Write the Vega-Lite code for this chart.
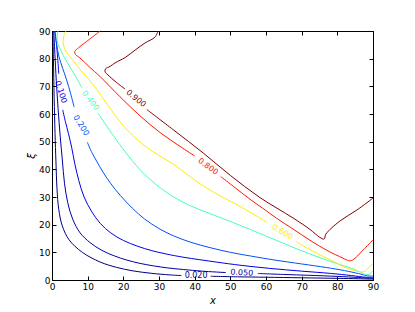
{
  "$schema": "https://vega.github.io/schema/vega-lite/v6.json",
  "width": 321,
  "height": 249,
  "autosize": "none",
  "padding": {"left": 52, "top": 31, "right": 42, "bottom": 32},
  "background": "white",
  "config": {
    "view": {"stroke": null},
    "axis": {
      "grid": false,
      "labelFont": "DejaVu Sans",
      "labelFontSize": 9,
      "labelColor": "#000",
      "labelFlush": false,
      "labelOverlap": false,
      "tickColor": "#000",
      "domainColor": "#000",
      "domainWidth": 1,
      "tickWidth": 1,
      "tickSize": -4,
      "labelPadding": 6,
      "titleFont": "DejaVu Sans",
      "titleFontWeight": "normal",
      "titleColor": "#000",
      "titleFontSize": 10
    }
  },
  "datasets": {
    "lines": [
      {"lev":"0.020","seg":"0.020a","o":1,"x":0.25,"y":90},
      {"lev":"0.020","seg":"0.020a","o":2,"x":0.4,"y":80},
      {"lev":"0.020","seg":"0.020a","o":3,"x":0.6,"y":66},
      {"lev":"0.020","seg":"0.020a","o":4,"x":0.85,"y":53},
      {"lev":"0.020","seg":"0.020a","o":5,"x":1.1,"y":43},
      {"lev":"0.020","seg":"0.020a","o":6,"x":1.4,"y":33},
      {"lev":"0.020","seg":"0.020a","o":7,"x":1.9,"y":25.5},
      {"lev":"0.020","seg":"0.020a","o":8,"x":2.9,"y":19.5},
      {"lev":"0.020","seg":"0.020a","o":9,"x":4.8,"y":14.5},
      {"lev":"0.020","seg":"0.020a","o":10,"x":8.5,"y":10.0},
      {"lev":"0.020","seg":"0.020a","o":11,"x":13.5,"y":6.5},
      {"lev":"0.020","seg":"0.020a","o":12,"x":18,"y":4.6},
      {"lev":"0.020","seg":"0.020a","o":13,"x":22.7,"y":3.3},
      {"lev":"0.020","seg":"0.020a","o":14,"x":28,"y":2.4},
      {"lev":"0.020","seg":"0.020a","o":15,"x":33,"y":1.85},
      {"lev":"0.020","seg":"0.020a","o":16,"x":36.3,"y":1.6},
      {"lev":"0.020","seg":"0.020b","o":1,"x":44.5,"y":1.35},
      {"lev":"0.020","seg":"0.020b","o":2,"x":52,"y":1.15},
      {"lev":"0.020","seg":"0.020b","o":3,"x":60,"y":1.0},
      {"lev":"0.020","seg":"0.020b","o":4,"x":70,"y":0.8},
      {"lev":"0.020","seg":"0.020b","o":5,"x":80,"y":0.6},
      {"lev":"0.020","seg":"0.020b","o":6,"x":86,"y":0.45},
      {"lev":"0.020","seg":"0.020b","o":7,"x":90,"y":0.3},

      {"lev":"0.050","seg":"0.050a","o":1,"x":0.5,"y":90},
      {"lev":"0.050","seg":"0.050a","o":2,"x":0.8,"y":82},
      {"lev":"0.050","seg":"0.050a","o":3,"x":1.2,"y":72},
      {"lev":"0.050","seg":"0.050a","o":4,"x":1.7,"y":62},
      {"lev":"0.050","seg":"0.050a","o":5,"x":2.3,"y":52},
      {"lev":"0.050","seg":"0.050a","o":6,"x":2.9,"y":43.4},
      {"lev":"0.050","seg":"0.050a","o":7,"x":3.5,"y":35},
      {"lev":"0.050","seg":"0.050a","o":8,"x":4.4,"y":28},
      {"lev":"0.050","seg":"0.050a","o":9,"x":5.8,"y":22},
      {"lev":"0.050","seg":"0.050a","o":10,"x":7.9,"y":17},
      {"lev":"0.050","seg":"0.050a","o":11,"x":10.7,"y":13.5},
      {"lev":"0.050","seg":"0.050a","o":12,"x":14,"y":10.7},
      {"lev":"0.050","seg":"0.050a","o":13,"x":17.5,"y":8.7},
      {"lev":"0.050","seg":"0.050a","o":14,"x":21,"y":7.2},
      {"lev":"0.050","seg":"0.050a","o":15,"x":24.7,"y":6.0},
      {"lev":"0.050","seg":"0.050a","o":16,"x":28.5,"y":5.1},
      {"lev":"0.050","seg":"0.050a","o":17,"x":32.2,"y":4.4},
      {"lev":"0.050","seg":"0.050a","o":18,"x":36.8,"y":3.8},
      {"lev":"0.050","seg":"0.050a","o":19,"x":42,"y":3.2},
      {"lev":"0.050","seg":"0.050a","o":20,"x":48.7,"y":2.7},
      {"lev":"0.050","seg":"0.050b","o":1,"x":57.7,"y":2.35},
      {"lev":"0.050","seg":"0.050b","o":2,"x":65,"y":2.0},
      {"lev":"0.050","seg":"0.050b","o":3,"x":72,"y":1.7},
      {"lev":"0.050","seg":"0.050b","o":4,"x":80,"y":1.3},
      {"lev":"0.050","seg":"0.050b","o":5,"x":86,"y":0.9},
      {"lev":"0.050","seg":"0.050b","o":6,"x":89,"y":0.6},
      {"lev":"0.050","seg":"0.050b","o":7,"x":90,"y":0.55},

      {"lev":"0.100","seg":"0.100a","o":1,"x":0.8,"y":90},
      {"lev":"0.100","seg":"0.100a","o":2,"x":1.2,"y":86},
      {"lev":"0.100","seg":"0.100a","o":3,"x":1.6,"y":80},
      {"lev":"0.100","seg":"0.100a","o":4,"x":1.9,"y":74.5},
      {"lev":"0.100","seg":"0.100b","o":1,"x":3.0,"y":61.5},
      {"lev":"0.100","seg":"0.100b","o":2,"x":3.8,"y":57},
      {"lev":"0.100","seg":"0.100b","o":3,"x":4.6,"y":53},
      {"lev":"0.100","seg":"0.100b","o":4,"x":5.5,"y":48},
      {"lev":"0.100","seg":"0.100b","o":5,"x":6.4,"y":42},
      {"lev":"0.100","seg":"0.100b","o":6,"x":7.5,"y":36},
      {"lev":"0.100","seg":"0.100b","o":7,"x":9.0,"y":30},
      {"lev":"0.100","seg":"0.100b","o":8,"x":11,"y":25},
      {"lev":"0.100","seg":"0.100b","o":9,"x":13.5,"y":20.5},
      {"lev":"0.100","seg":"0.100b","o":10,"x":16.5,"y":17},
      {"lev":"0.100","seg":"0.100b","o":11,"x":20,"y":14.3},
      {"lev":"0.100","seg":"0.100b","o":12,"x":24,"y":12.2},
      {"lev":"0.100","seg":"0.100b","o":13,"x":28,"y":10.6},
      {"lev":"0.100","seg":"0.100b","o":14,"x":32,"y":9.4},
      {"lev":"0.100","seg":"0.100b","o":15,"x":37,"y":8.2},
      {"lev":"0.100","seg":"0.100b","o":16,"x":46,"y":6.5},
      {"lev":"0.100","seg":"0.100b","o":17,"x":53,"y":5.3},
      {"lev":"0.100","seg":"0.100b","o":18,"x":61,"y":4.2},
      {"lev":"0.100","seg":"0.100b","o":19,"x":70,"y":3.2},
      {"lev":"0.100","seg":"0.100b","o":20,"x":78,"y":2.4},
      {"lev":"0.100","seg":"0.100b","o":21,"x":84,"y":1.6},
      {"lev":"0.100","seg":"0.100b","o":22,"x":88,"y":1.0},
      {"lev":"0.100","seg":"0.100b","o":23,"x":90,"y":0.9},

      {"lev":"0.200","seg":"0.200a","o":1,"x":0.8,"y":90},
      {"lev":"0.200","seg":"0.200a","o":2,"x":1.2,"y":86},
      {"lev":"0.200","seg":"0.200a","o":3,"x":1.9,"y":81},
      {"lev":"0.200","seg":"0.200a","o":4,"x":3.0,"y":76.5},
      {"lev":"0.200","seg":"0.200a","o":5,"x":4.1,"y":72.3},
      {"lev":"0.200","seg":"0.200a","o":6,"x":5.2,"y":67.5},
      {"lev":"0.200","seg":"0.200a","o":7,"x":6.2,"y":62.5},
      {"lev":"0.200","seg":"0.200b","o":1,"x":9.9,"y":49.8},
      {"lev":"0.200","seg":"0.200b","o":2,"x":11.2,"y":46},
      {"lev":"0.200","seg":"0.200b","o":3,"x":12.5,"y":43},
      {"lev":"0.200","seg":"0.200b","o":4,"x":14.3,"y":39},
      {"lev":"0.200","seg":"0.200b","o":5,"x":16.5,"y":34.8},
      {"lev":"0.200","seg":"0.200b","o":6,"x":19.2,"y":30.5},
      {"lev":"0.200","seg":"0.200b","o":7,"x":22.5,"y":26},
      {"lev":"0.200","seg":"0.200b","o":8,"x":26,"y":22},
      {"lev":"0.200","seg":"0.200b","o":9,"x":30,"y":18.6},
      {"lev":"0.200","seg":"0.200b","o":10,"x":34,"y":16},
      {"lev":"0.200","seg":"0.200b","o":11,"x":39,"y":13.6},
      {"lev":"0.200","seg":"0.200b","o":12,"x":44.3,"y":11.7},
      {"lev":"0.200","seg":"0.200b","o":13,"x":50,"y":10.0},
      {"lev":"0.200","seg":"0.200b","o":14,"x":56,"y":8.6},
      {"lev":"0.200","seg":"0.200b","o":15,"x":62,"y":7.3},
      {"lev":"0.200","seg":"0.200b","o":16,"x":70,"y":5.8},
      {"lev":"0.200","seg":"0.200b","o":17,"x":77,"y":4.5},
      {"lev":"0.200","seg":"0.200b","o":18,"x":82,"y":3.4},
      {"lev":"0.200","seg":"0.200b","o":19,"x":86,"y":2.3},
      {"lev":"0.200","seg":"0.200b","o":20,"x":88.5,"y":1.5},
      {"lev":"0.200","seg":"0.200b","o":21,"x":90,"y":1.4},

      {"lev":"0.400","seg":"0.400a","o":1,"x":1.7,"y":90},
      {"lev":"0.400","seg":"0.400a","o":2,"x":1.4,"y":88},
      {"lev":"0.400","seg":"0.400a","o":3,"x":1.5,"y":86},
      {"lev":"0.400","seg":"0.400a","o":4,"x":2.1,"y":84},
      {"lev":"0.400","seg":"0.400a","o":5,"x":3.6,"y":80.1},
      {"lev":"0.400","seg":"0.400a","o":6,"x":6.2,"y":74.5},
      {"lev":"0.400","seg":"0.400a","o":7,"x":8.4,"y":69.5},
      {"lev":"0.400","seg":"0.400b","o":1,"x":12.9,"y":60.2},
      {"lev":"0.400","seg":"0.400b","o":2,"x":16.7,"y":53.1},
      {"lev":"0.400","seg":"0.400b","o":3,"x":21.3,"y":45},
      {"lev":"0.400","seg":"0.400b","o":4,"x":26.1,"y":38},
      {"lev":"0.400","seg":"0.400b","o":5,"x":32.2,"y":31.6},
      {"lev":"0.400","seg":"0.400b","o":6,"x":38,"y":27.3},
      {"lev":"0.400","seg":"0.400b","o":7,"x":44.3,"y":24},
      {"lev":"0.400","seg":"0.400b","o":8,"x":50.7,"y":20.8},
      {"lev":"0.400","seg":"0.400b","o":9,"x":60.2,"y":15.8},
      {"lev":"0.400","seg":"0.400b","o":10,"x":69.5,"y":10.8},
      {"lev":"0.400","seg":"0.400b","o":11,"x":78.8,"y":6.4},
      {"lev":"0.400","seg":"0.400b","o":12,"x":84,"y":4.2},
      {"lev":"0.400","seg":"0.400b","o":13,"x":86.5,"y":2.8},
      {"lev":"0.400","seg":"0.400b","o":14,"x":87.7,"y":2.0},
      {"lev":"0.400","seg":"0.400b","o":15,"x":88.8,"y":2.0},
      {"lev":"0.400","seg":"0.400b","o":16,"x":90,"y":3.3},

      {"lev":"0.600","seg":"0.600a","o":1,"x":3.9,"y":90},
      {"lev":"0.600","seg":"0.600a","o":2,"x":3.2,"y":87.5},
      {"lev":"0.600","seg":"0.600a","o":3,"x":3.2,"y":85},
      {"lev":"0.600","seg":"0.600a","o":4,"x":4.0,"y":82.5},
      {"lev":"0.600","seg":"0.600a","o":5,"x":5.5,"y":80},
      {"lev":"0.600","seg":"0.600a","o":6,"x":8.3,"y":75.5},
      {"lev":"0.600","seg":"0.600a","o":7,"x":12,"y":69.8},
      {"lev":"0.600","seg":"0.600a","o":8,"x":15.5,"y":63.5},
      {"lev":"0.600","seg":"0.600a","o":9,"x":19.5,"y":56.5},
      {"lev":"0.600","seg":"0.600a","o":10,"x":23,"y":51.8},
      {"lev":"0.600","seg":"0.600a","o":11,"x":26.5,"y":48},
      {"lev":"0.600","seg":"0.600a","o":12,"x":30,"y":45},
      {"lev":"0.600","seg":"0.600a","o":13,"x":33.9,"y":42},
      {"lev":"0.600","seg":"0.600a","o":14,"x":37.5,"y":38.5},
      {"lev":"0.600","seg":"0.600a","o":15,"x":41.5,"y":34.8},
      {"lev":"0.600","seg":"0.600a","o":16,"x":46,"y":31.2},
      {"lev":"0.600","seg":"0.600a","o":17,"x":50.7,"y":28},
      {"lev":"0.600","seg":"0.600a","o":18,"x":56,"y":24.2},
      {"lev":"0.600","seg":"0.600a","o":19,"x":60.3,"y":20.8},
      {"lev":"0.600","seg":"0.600b","o":1,"x":68.5,"y":13.9},
      {"lev":"0.600","seg":"0.600b","o":2,"x":73,"y":10.5},
      {"lev":"0.600","seg":"0.600b","o":3,"x":78.8,"y":6.8},
      {"lev":"0.600","seg":"0.600b","o":4,"x":82.1,"y":4.6},
      {"lev":"0.600","seg":"0.600b","o":5,"x":84.5,"y":3.5},
      {"lev":"0.600","seg":"0.600b","o":6,"x":86.2,"y":3.0},
      {"lev":"0.600","seg":"0.600b","o":7,"x":87.5,"y":3.0},
      {"lev":"0.600","seg":"0.600b","o":8,"x":88.6,"y":4.2},
      {"lev":"0.600","seg":"0.600b","o":9,"x":90,"y":6.1},

      {"lev":"0.800","seg":"0.800a","o":1,"x":13.5,"y":90},
      {"lev":"0.800","seg":"0.800a","o":2,"x":10.5,"y":87},
      {"lev":"0.800","seg":"0.800a","o":3,"x":7.5,"y":84},
      {"lev":"0.800","seg":"0.800a","o":4,"x":6.4,"y":82.6},
      {"lev":"0.800","seg":"0.800a","o":5,"x":6.6,"y":81.5},
      {"lev":"0.800","seg":"0.800a","o":6,"x":7.8,"y":80.3},
      {"lev":"0.800","seg":"0.800a","o":7,"x":10.5,"y":77},
      {"lev":"0.800","seg":"0.800a","o":8,"x":13.5,"y":73.5},
      {"lev":"0.800","seg":"0.800a","o":9,"x":19.1,"y":66.2},
      {"lev":"0.800","seg":"0.800a","o":10,"x":24.7,"y":59.3},
      {"lev":"0.800","seg":"0.800a","o":11,"x":30.3,"y":53.3},
      {"lev":"0.800","seg":"0.800a","o":12,"x":35.9,"y":48.3},
      {"lev":"0.800","seg":"0.800a","o":13,"x":40,"y":44.8},
      {"lev":"0.800","seg":"0.800b","o":1,"x":47.3,"y":37.4},
      {"lev":"0.800","seg":"0.800b","o":2,"x":51.5,"y":33.2},
      {"lev":"0.800","seg":"0.800b","o":3,"x":55.5,"y":29.2},
      {"lev":"0.800","seg":"0.800b","o":4,"x":59,"y":26},
      {"lev":"0.800","seg":"0.800b","o":5,"x":63,"y":22.3},
      {"lev":"0.800","seg":"0.800b","o":6,"x":67.6,"y":18.4},
      {"lev":"0.800","seg":"0.800b","o":7,"x":72.3,"y":14.4},
      {"lev":"0.800","seg":"0.800b","o":8,"x":77.1,"y":10.7},
      {"lev":"0.800","seg":"0.800b","o":9,"x":81.6,"y":7.9},
      {"lev":"0.800","seg":"0.800b","o":10,"x":83.2,"y":7.0},
      {"lev":"0.800","seg":"0.800b","o":11,"x":84.3,"y":7.2},
      {"lev":"0.800","seg":"0.800b","o":12,"x":87.2,"y":10.8},
      {"lev":"0.800","seg":"0.800b","o":13,"x":90,"y":14.5},

      {"lev":"0.900","seg":"0.900a","o":1,"x":29.7,"y":90},
      {"lev":"0.900","seg":"0.900a","o":2,"x":28.9,"y":87.8},
      {"lev":"0.900","seg":"0.900a","o":3,"x":26.1,"y":85.7},
      {"lev":"0.900","seg":"0.900a","o":4,"x":23.3,"y":83.1},
      {"lev":"0.900","seg":"0.900a","o":5,"x":20.5,"y":80.4},
      {"lev":"0.900","seg":"0.900a","o":6,"x":17.7,"y":78.5},
      {"lev":"0.900","seg":"0.900a","o":7,"x":16.3,"y":77.2},
      {"lev":"0.900","seg":"0.900a","o":8,"x":15,"y":76.3},
      {"lev":"0.900","seg":"0.900a","o":9,"x":14.9,"y":75.2},
      {"lev":"0.900","seg":"0.900a","o":10,"x":15.7,"y":74.1},
      {"lev":"0.900","seg":"0.900a","o":11,"x":18,"y":71.5},
      {"lev":"0.900","seg":"0.900a","o":12,"x":20.5,"y":69},
      {"lev":"0.900","seg":"0.900b","o":1,"x":26.6,"y":61.6},
      {"lev":"0.900","seg":"0.900b","o":2,"x":34,"y":54.3},
      {"lev":"0.900","seg":"0.900b","o":3,"x":42.5,"y":45.8},
      {"lev":"0.900","seg":"0.900b","o":4,"x":50,"y":37.8},
      {"lev":"0.900","seg":"0.900b","o":5,"x":58.3,"y":29.8},
      {"lev":"0.900","seg":"0.900b","o":6,"x":67.6,"y":22.4},
      {"lev":"0.900","seg":"0.900b","o":7,"x":72.3,"y":18.3},
      {"lev":"0.900","seg":"0.900b","o":8,"x":75.1,"y":15.4},
      {"lev":"0.900","seg":"0.900b","o":9,"x":76.3,"y":14.8},
      {"lev":"0.900","seg":"0.900b","o":10,"x":76.8,"y":16.6},
      {"lev":"0.900","seg":"0.900b","o":11,"x":80.7,"y":21.3},
      {"lev":"0.900","seg":"0.900b","o":12,"x":85.5,"y":25.3},
      {"lev":"0.900","seg":"0.900b","o":13,"x":90,"y":29.6}
    ],
    "labels": [
      {"lev":"0.020","x":40.4,"y":1.5},
      {"lev":"0.050","x":53.2,"y":2.5},
      {"lev":"0.100","x":2.4,"y":67.9},
      {"lev":"0.200","x":8.1,"y":55.8},
      {"lev":"0.400","x":10.7,"y":64.8},
      {"lev":"0.600","x":64.5,"y":17.2},
      {"lev":"0.800","x":43.7,"y":40.9},
      {"lev":"0.900","x":23.5,"y":65.5}
    ]
  },
  "resolve": {"axis": {"x": "independent", "y": "independent"}},
  "layer": [
    {
      "data": {"name": "lines"},
      "mark": {"type": "line", "strokeWidth": 1, "interpolate": "catmull-rom"},
      "encoding": {
        "x": {"field": "x", "type": "quantitative", "scale": {"domain": [0, 90], "nice": false},
              "axis": {"orient": "bottom", "values": [0,10,20,30,40,50,60,70,80,90], "title": "x", "titleFontStyle": "italic", "titlePadding": 4}},
        "y": {"field": "y", "type": "quantitative", "scale": {"domain": [0, 90], "nice": false},
              "axis": {"orient": "left", "values": [0,10,20,30,40,50,60,70,80,90], "title": "ξ", "titleFontStyle": "italic", "titlePadding": 2}},
        "color": {"field": "lev", "type": "nominal", "legend": null,
                  "scale": {"domain": ["0.020","0.050","0.100","0.200","0.400","0.600","0.800","0.900"],
                            "range": ["#000080","#0000a7","#0000e9","#0051ff","#43ffb4","#feed00","#ff1700","#800000"]}},
        "detail": {"field": "seg", "type": "nominal"},
        "order": {"field": "o", "type": "quantitative"}
      }
    },
    {
      "data": {"name": "labels"},
      "transform": [{"filter": "datum.lev === '0.020'"}],
      "mark": {"type": "text", "font": "DejaVu Sans", "fontSize": 8, "angle": 0},
      "encoding": {
        "x": {"field": "x", "type": "quantitative", "axis": {"orient": "top", "values": [0,10,20,30,40,50,60,70,80,90], "labels": false, "title": null}},
        "y": {"field": "y", "type": "quantitative", "axis": {"orient": "right", "values": [0,10,20,30,40,50,60,70,80,90], "labels": false, "title": null}},
        "text": {"field": "lev"},
        "color": {"field": "lev", "type": "nominal", "legend": null}
      }
    },
    {
      "data": {"name": "labels"},
      "transform": [{"filter": "datum.lev === '0.050'"}],
      "mark": {"type": "text", "font": "DejaVu Sans", "fontSize": 8, "angle": 3},
      "encoding": {
        "x": {"field": "x", "type": "quantitative", "axis": null},
        "y": {"field": "y", "type": "quantitative", "axis": null},
        "text": {"field": "lev"},
        "color": {"field": "lev", "type": "nominal", "legend": null}
      }
    },
    {
      "data": {"name": "labels"},
      "transform": [{"filter": "datum.lev === '0.100'"}],
      "mark": {"type": "text", "font": "DejaVu Sans", "fontSize": 8, "angle": 72},
      "encoding": {
        "x": {"field": "x", "type": "quantitative", "axis": null},
        "y": {"field": "y", "type": "quantitative", "axis": null},
        "text": {"field": "lev"},
        "color": {"field": "lev", "type": "nominal", "legend": null}
      }
    },
    {
      "data": {"name": "labels"},
      "transform": [{"filter": "datum.lev === '0.200'"}],
      "mark": {"type": "text", "font": "DejaVu Sans", "fontSize": 8, "angle": 58},
      "encoding": {
        "x": {"field": "x", "type": "quantitative", "axis": null},
        "y": {"field": "y", "type": "quantitative", "axis": null},
        "text": {"field": "lev"},
        "color": {"field": "lev", "type": "nominal", "legend": null}
      }
    },
    {
      "data": {"name": "labels"},
      "transform": [{"filter": "datum.lev === '0.400'"}],
      "mark": {"type": "text", "font": "DejaVu Sans", "fontSize": 8, "angle": 52},
      "encoding": {
        "x": {"field": "x", "type": "quantitative", "axis": null},
        "y": {"field": "y", "type": "quantitative", "axis": null},
        "text": {"field": "lev"},
        "color": {"field": "lev", "type": "nominal", "legend": null}
      }
    },
    {
      "data": {"name": "labels"},
      "transform": [{"filter": "datum.lev === '0.600'"}],
      "mark": {"type": "text", "font": "DejaVu Sans", "fontSize": 8, "angle": 30},
      "encoding": {
        "x": {"field": "x", "type": "quantitative", "axis": null},
        "y": {"field": "y", "type": "quantitative", "axis": null},
        "text": {"field": "lev"},
        "color": {"field": "lev", "type": "nominal", "legend": null}
      }
    },
    {
      "data": {"name": "labels"},
      "transform": [{"filter": "datum.lev === '0.800'"}],
      "mark": {"type": "text", "font": "DejaVu Sans", "fontSize": 8, "angle": 36},
      "encoding": {
        "x": {"field": "x", "type": "quantitative", "axis": null},
        "y": {"field": "y", "type": "quantitative", "axis": null},
        "text": {"field": "lev"},
        "color": {"field": "lev", "type": "nominal", "legend": null}
      }
    },
    {
      "data": {"name": "labels"},
      "transform": [{"filter": "datum.lev === '0.900'"}],
      "mark": {"type": "text", "font": "DejaVu Sans", "fontSize": 8, "angle": 39},
      "encoding": {
        "x": {"field": "x", "type": "quantitative", "axis": null},
        "y": {"field": "y", "type": "quantitative", "axis": null},
        "text": {"field": "lev"},
        "color": {"field": "lev", "type": "nominal", "legend": null}
      }
    }
  ]
}
